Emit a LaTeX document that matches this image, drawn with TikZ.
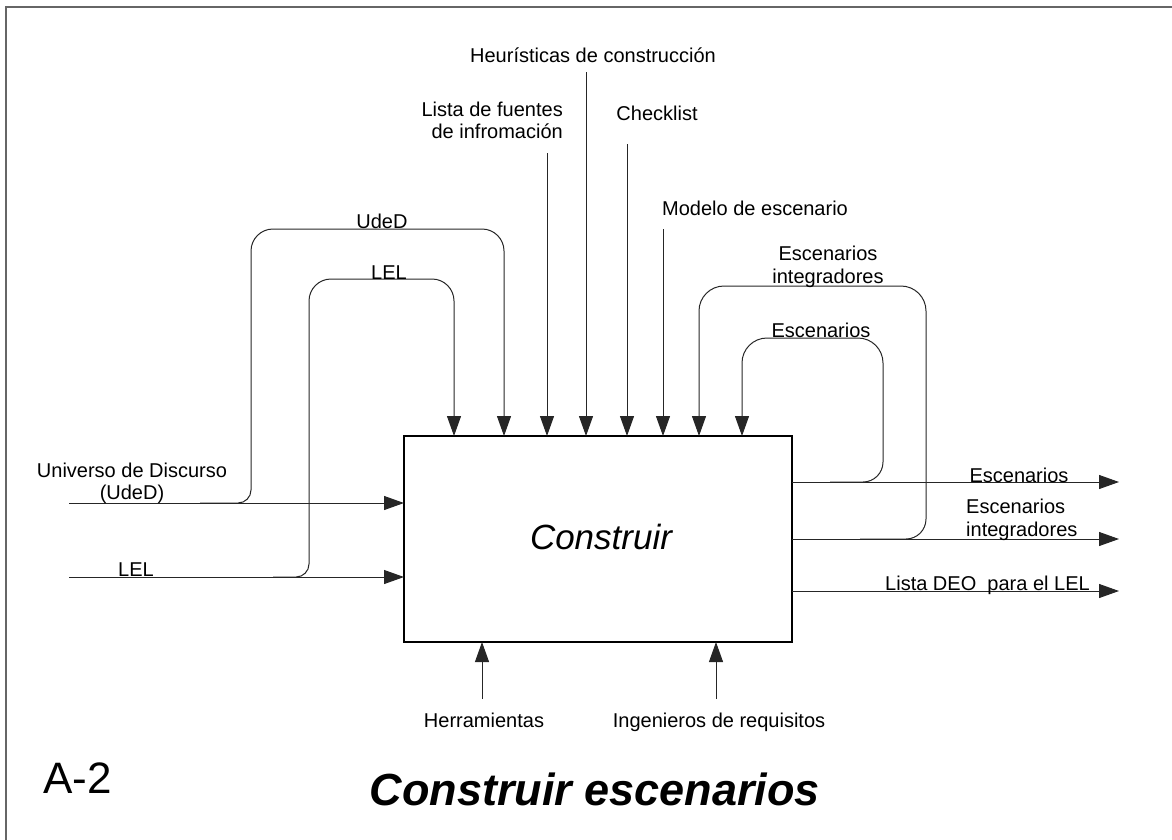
\documentclass[tikz,border=0pt]{standalone}
\usepackage{fontspec}
\setmainfont{Liberation Sans}
\usetikzlibrary{arrows.meta}
\begin{document}
\begin{tikzpicture}[x=1pt,y=-1pt,
  conn/.style={line width=1pt,draw=black!85},
  arr/.style={conn,-{Triangle[length=20pt,width=14pt]}},
  lbl/.style={font=\fontsize{20}{23}\selectfont,inner sep=0pt,anchor=base},
  lbll/.style={lbl,anchor=base west},
  lblr/.style={lbl,anchor=base east},
  frame/.style={line width=2pt,draw=black!60}]
\useasboundingbox (0,0) rectangle (1172,839);
% frame
\draw[frame] (6,845) -- (6,6.5) -- (1180,6.5);
% main box
\node[draw=black,line width=1.2pt,minimum width=388pt,minimum height=206pt,inner sep=0pt] (B) at (598,539) {};
\node[lbl,font=\itshape\fontsize{35}{40}\selectfont] (Bt) at (601,549) {Construir};
% entry coordinates
\coordinate (L1) at (404,503);
\coordinate (L2) at (404,577);
\foreach \n/\x in {t1/454,t2/504,t3/547,t4/586,t5/627,t6/663,t7/699,t8/742}
  \coordinate (\n) at (\x,436);
\coordinate (R1) at (792,482);
\coordinate (R2) at (792,539);
\coordinate (R3) at (792,591);
\coordinate (b1) at (482,642);
\coordinate (b2) at (716,642);
% free ends
\coordinate (s1) at (69,503);
\coordinate (s2) at (69,577);
\coordinate (s3) at (547,153);
\coordinate (s4) at (586,72);
\coordinate (s5) at (627,144);
\coordinate (s6) at (663,229);
\coordinate (e1) at (1119,482);
\coordinate (e2) at (1119,539);
\coordinate (e3) at (1119,591);
\coordinate (u1) at (482,699);
\coordinate (u2) at (716,699);
% left inputs
\draw[arr] (s1) -- (L1);
\draw[arr] (s2) -- (L2);
% UdeD loop
\draw[arr,rounded corners=13pt] (200,503) -- (251,503) [rounded corners=22pt] -- (251,229) -- (504,229) -- (t2);
% LEL loop
\draw[arr,rounded corners=13pt] (273,577) -- (309,577) [rounded corners=22pt] -- (309,279) -- (454,279) -- (t1);
% top inputs
\draw[arr] (s3) -- (t3);
\draw[arr] (s4) -- (t4);
\draw[arr] (s5) -- (t5);
\draw[arr] (s6) -- (t6);
% right feedback loops
\draw[arr,rounded corners=20pt] (830,482) -- (883,482) [rounded corners=25pt] -- (883,338) -- (742,338) -- (t8);
\draw[arr,rounded corners=20pt] (860,539) -- (926,539) [rounded corners=25pt] -- (926,286) -- (699,286) -- (t7);
% outputs
\draw[arr] (R1) -- (e1);
\draw[arr] (R2) -- (e2);
\draw[arr] (R3) -- (e3);
% bottom mechanisms
\draw[arr] (u1) -- (b1);
\draw[arr] (u2) -- (b2);
% labels
\node[lbl] (l1) at (593,62) {Heurísticas de construcción};
\node[lblr] (l2) at (563,116) {Lista de fuentes};
\node[lblr] (l2b) at (563,138) {de infromación};
\node[lbl] (l3) at (657,120) {Checklist};
\node[lbll] (l4) at (662,215) {Modelo de escenario};
\node[lbl] (l5) at (382,228) {UdeD};
\node[lbl] (l6) at (389,279) {LEL};
\node[lbl] (l7) at (132,477) {Universo de Discurso};
\node[lbl] (l7b) at (132,499) {(UdeD)};
\node[lbl] (l8) at (136,576) {LEL};
\node[lbl] (l9) at (828,260) {Escenarios};
\node[lbl] (l9b) at (828,283) {integradores};
\node[lbl] (l10) at (821,337) {Escenarios};
\node[lbl] (l11) at (1019,482) {Escenarios};
\node[lbll] (l12) at (966,513) {Escenarios};
\node[lbll] (l12b) at (966,536) {integradores};
\node[lbll] (l13) at (885,590) {Lista DEO\ \ para el LEL};
\node[lbl] (l14) at (484,727) {Herramientas};
\node[lbl] (l15) at (719,727) {Ingenieros de requisitos};
\node[lbll,font=\fontsize{44}{50}\selectfont] (l16) at (43,793) {A-2};
\node[lbl,font=\bfseries\itshape\fontsize{45}{52}\selectfont] (l17) at (595,805) {Construir escenarios};
\end{tikzpicture}
\end{document}
